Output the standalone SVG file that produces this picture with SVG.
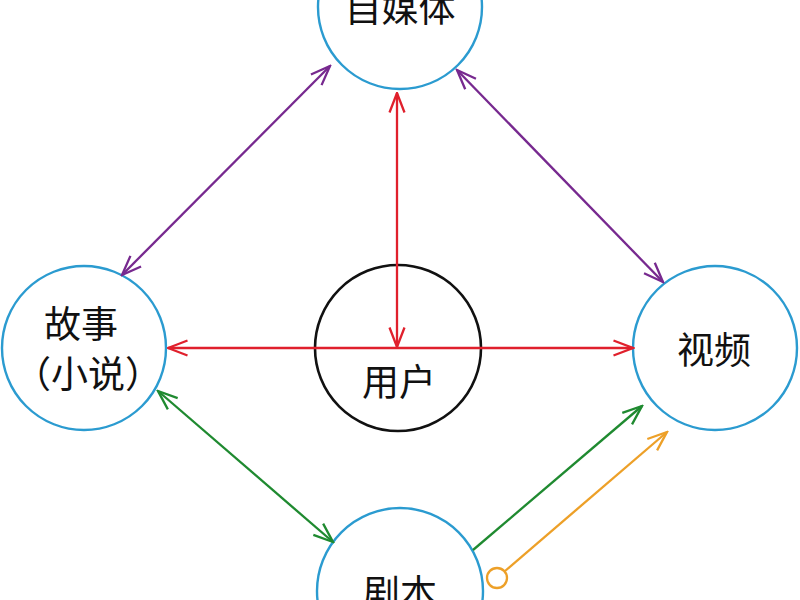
<svg xmlns="http://www.w3.org/2000/svg" width="800" height="600" viewBox="0 0 800 600">
<defs>
<style>
.node{fill:#fff;stroke:#2b9bd0;stroke-width:2.4}
.user{fill:#fff;stroke:#111;stroke-width:2.6}
.lbl{font-family:"Noto Sans CJK SC","Noto Sans",sans-serif;font-size:37px;fill:#111;text-anchor:middle}
.c{fill:none;stroke-width:2.3}
.red{stroke:#e0202c}
.pur{stroke:#77298f}
.grn{stroke:#1f8a30}
.org{stroke:#eda028}
</style>
<marker id="aRed" viewBox="0 0 22 18" refX="20.5" refY="9" markerWidth="22" markerHeight="18" markerUnits="userSpaceOnUse" orient="auto-start-reverse"><path d="M1,1.5 L20.5,9 L1,16.5" fill="none" stroke="#e0202c" stroke-width="2.3"/></marker>
<marker id="aPur" viewBox="0 0 22 18" refX="20.5" refY="9" markerWidth="22" markerHeight="18" markerUnits="userSpaceOnUse" orient="auto-start-reverse"><path d="M1,1.5 L20.5,9 L1,16.5" fill="none" stroke="#77298f" stroke-width="2.3"/></marker>
<marker id="aGrn" viewBox="0 0 22 18" refX="20.5" refY="9" markerWidth="22" markerHeight="18" markerUnits="userSpaceOnUse" orient="auto-start-reverse"><path d="M1,1.5 L20.5,9 L1,16.5" fill="none" stroke="#1f8a30" stroke-width="2.3"/></marker>
<marker id="aOrg" viewBox="0 0 22 18" refX="20.5" refY="9" markerWidth="22" markerHeight="18" markerUnits="userSpaceOnUse" orient="auto-start-reverse"><path d="M1,1.5 L20.5,9 L1,16.5" fill="none" stroke="#eda028" stroke-width="2.3"/></marker>
</defs>
<rect width="800" height="600" fill="#fff"/>
<g id="n-zimeiti"><circle class="node" cx="400" cy="7" r="82"/><text class="lbl" x="400" y="22">自媒体</text></g>
<g id="n-gushi"><circle class="node" cx="84" cy="348" r="82"/><text class="lbl" x="81" y="338">故事</text><text class="lbl" x="88" y="388">（小说）</text></g>
<g id="n-user"><circle class="user" cx="398" cy="348" r="83"/><text class="lbl" x="399" y="396">用户</text></g>
<g id="n-shipin"><circle class="node" cx="715" cy="348" r="82"/><text class="lbl" x="714" y="364">视频</text></g>
<g id="n-juben"><circle class="node" cx="400" cy="591" r="83"/><text class="lbl" x="400" y="607">剧本</text></g>
<g id="connectors">
<line class="c pur" x1="330" y1="66" x2="122" y2="275" marker-start="url(#aPur)" marker-end="url(#aPur)"/>
<line class="c pur" x1="457" y1="70" x2="663" y2="282" marker-start="url(#aPur)" marker-end="url(#aPur)"/>
<line class="c red" x1="397" y1="93" x2="397" y2="347" marker-start="url(#aRed)" marker-end="url(#aRed)"/>
<line class="c red" x1="168" y1="348" x2="633" y2="348" marker-start="url(#aRed)" marker-end="url(#aRed)"/>
<line class="c grn" x1="158" y1="391" x2="333" y2="542" marker-start="url(#aGrn)" marker-end="url(#aGrn)"/>
<line class="c grn" x1="473" y1="550" x2="642" y2="406" marker-end="url(#aGrn)"/>
<circle class="c org" cx="497" cy="578" r="10"/>
<line class="c org" x1="505" y1="571" x2="667" y2="432" marker-end="url(#aOrg)"/>
</g>
</svg>
